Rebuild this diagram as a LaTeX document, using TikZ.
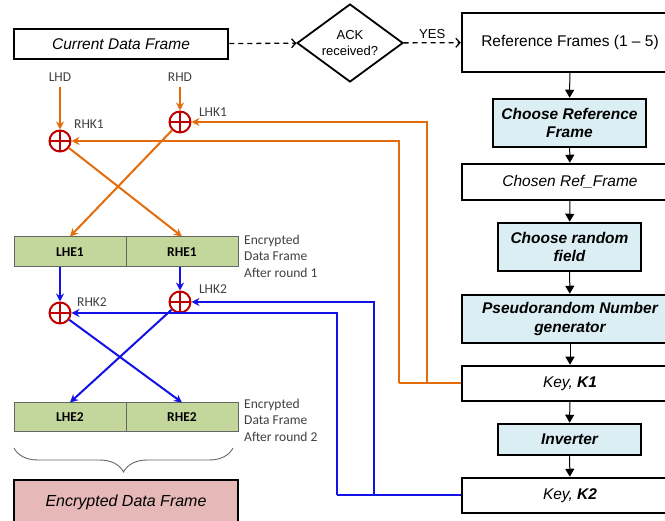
\documentclass[tikz,border=0pt]{standalone}
\usepackage{fontspec}
\setmainfont{Liberation Sans}
\newfontfamily\calibri{Carlito}
\usetikzlibrary{shapes.geometric,arrows.meta,decorations.pathreplacing}
\definecolor{keyorange}{HTML}{E46C0A}
\definecolor{keyblue}{HTML}{1212E6}
\definecolor{xorred}{HTML}{C00000}
\definecolor{halfgreen}{HTML}{C3D69B}
\definecolor{stepblue}{HTML}{DBEEF4}
\definecolor{outpink}{HTML}{E6B9B8}
\definecolor{labelgray}{HTML}{404040}
\tikzset{
  framebox/.style = {draw, line width=2.5pt, inner sep=0pt, align=center,
                     minimum width=216, minimum height=#1,
                     font=\fontsize{15.5}{18}\selectfont\itshape},
  framebox/.default = 35,
  stepbox/.style = {framebox=48, fill=stepblue,
                    font=\fontsize{15.5}{18.5}\selectfont\bfseries\itshape},
  half/.style = {draw=black!60, line width=1pt, fill=halfgreen,
                 minimum width=112, minimum height=#1, inner sep=0pt,
                 font=\calibri\fontsize{13.5}{16}\selectfont\bfseries},
  half/.default = 30,
  xor/.style = {circle, draw=xorred, fill=white, line width=2pt,
                minimum size=21, inner sep=0pt,
                path picture={\draw[xorred, line width=2pt]
                  (path picture bounding box.north) -- (path picture bounding box.south)
                  (path picture bounding box.west) -- (path picture bounding box.east);}},
  lbl/.style = {text=labelgray, inner sep=0pt, align=left,
                font=\calibri\fontsize{13.5}{16.5}\selectfont},
  flow/.style = {line width=1pt, -{Triangle[length=8pt,width=9pt]}},
  ask/.style = {line width=1.3pt, dash pattern=on 5pt off 4pt,
                -{Straight Barb[length=4pt,width=9pt]}},
  okey/.style = {keyorange, line width=2pt, -{Stealth[length=8pt,width=8pt]}},
  bkey/.style = {keyblue, line width=2pt, -{Stealth[length=8pt,width=8pt]}}
}

\begin{document}
\begin{tikzpicture}[x=1pt,y=-1pt]
	\useasboundingbox (0,0) rectangle (665,521);
	\def\cx{570}

	% Key generation (right column)
	\node[framebox=59, font=\fontsize{15.5}{18}\selectfont] (reff) at (\cx,42.5) {Reference Frames (1 -- 5)};
	\node[stepbox, minimum width=153] (chref) at (569.5,123) {Choose Reference\\Frame};
	\node[framebox=36] (chosen) at (\cx,182) {Chosen Ref\_Frame};
	\node[stepbox, minimum width=143] (chrand) at (569.5,247) {Choose random\\field};
	\node[stepbox] (prng) at (\cx,319) {Pseudorandom Number\\generator};
	\node[framebox] (k1) at (\cx,383.5) {Key, \textbf{K1}};
	\node[stepbox, minimum width=143, minimum height=31] (inv) at (569.5,439.5) {Inverter};
	\node[framebox] (k2) at (\cx,495.5) {Key, \textbf{K2}};

	\draw[flow] (reff) -- (chref);
	\draw[flow] (chref) -- (chosen);
	\draw[flow] (chosen) -- (chrand);
	\draw[flow] (chrand) -- (prng);
	\draw[flow] (prng) -- (k1);
	\draw[flow] (k1) -- (inv);
	\draw[flow] (inv) -- (k2);

	% Input frame and check
	\node[framebox=30, minimum width=214] (cdf) at (121,44) {Current Data Frame};
	\node[diamond, draw, line width=1.8pt, aspect=1.36, inner sep=0pt,
	      minimum width=106, minimum height=78, align=center,
	      font=\fontsize{13}{16}\selectfont] (ack) at (350,43) {ACK\\received?};
	\draw[ask] (cdf) -- (ack);
	\draw[ask] (ack) -- node[above, font=\fontsize{13}{15}\selectfont] {YES} (reff);

	% Round 1
	\node[lbl] (lhd) at (60,77) {LHD};
	\node[lbl] (rhd) at (180,77) {RHD};
	\node[xor] (x1l) at (60,141) {};
	\node[xor] (x1r) at (180,122) {};
	\node[lbl] (rhk1) at (89,124) {RHK1};
	\node[lbl] (lhk1) at (213,112) {LHK1};
	\node[half] (lhe1) at (70,252) {LHE1};
	\node[half] (rhe1) at (182,252) {RHE1};
	\node[lbl, anchor=west] (rnd1) at (244,256) {Encrypted\\Data Frame\\After round 1};

	\draw[okey, shorten <=5pt] (lhd.south) -- (x1l);
	\draw[okey, shorten <=5pt] (rhd.south) -- (x1r);
	\coordinate (obusA) at (427,0);
	\coordinate (obusB) at (399,0);
	\draw[keyorange, line width=2pt] (k1.west) -- (k1.west -| obusB);
	\draw[okey] (k1.west -| obusA) |- (x1r.east);
	\draw[okey] (k1.west -| obusB) |- (x1l.east);
	\draw[okey] (x1l) -- (rhe1.north);
	\draw[okey] (x1r) -- (lhe1.north);

	% Round 2
	\node[xor] (x2l) at (60,313) {};
	\node[xor] (x2r) at (180,302) {};
	\node[lbl] (rhk2) at (92,302) {RHK2};
	\node[lbl] (lhk2) at (213,289) {LHK2};
	\node[half=29] (lhe2) at (70,417.5) {LHE2};
	\node[half=29] (rhe2) at (182,417.5) {RHE2};
	\node[lbl, anchor=west] (rnd2) at (244,420) {Encrypted\\Data Frame\\After round 2};

	\draw[bkey] (lhe1.south -| x2l) -- (x2l);
	\draw[bkey] (rhe1.south -| x2r) -- (x2r);
	\coordinate (bbusA) at (374,0);
	\coordinate (bbusB) at (337,0);
	\draw[keyblue, line width=2pt] (k2.west) -- (k2.west -| bbusB);
	\draw[bkey] (k2.west -| bbusA) |- (x2r.east);
	\draw[bkey] (k2.west -| bbusB) |- (x2l.east);
	\draw[bkey] (x2l) -- (rhe2.north);
	\draw[bkey] (x2r) -- (lhe2.north);

	% Output
	\coordinate (brl) at (14,448);
	\coordinate (brr) at (233,448);
	\draw[black!60, line width=0.9pt, decorate,
	      decoration={brace, mirror, amplitude=24pt}] (brl) -- (brr);
	\node[framebox=44, minimum width=224, fill=outpink,
	      font=\fontsize{16}{19}\selectfont\itshape] (edf) at (126,502) {Encrypted Data Frame};
\end{tikzpicture}
\end{document}
